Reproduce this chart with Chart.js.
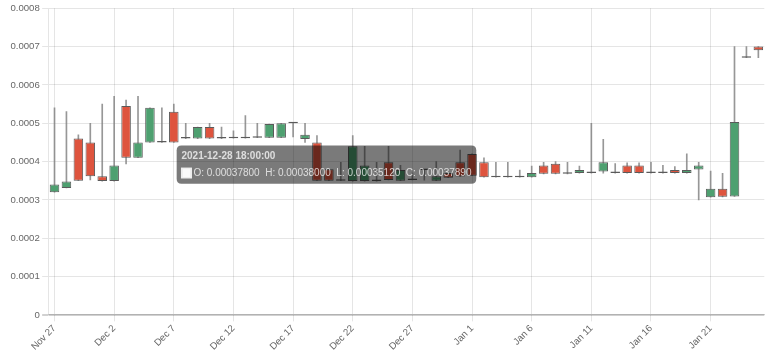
<!DOCTYPE html>
<html>
<head>
<meta charset="utf-8">
<script src="https://cdn.jsdelivr.net/npm/chart.js@4.4.0/dist/chart.umd.min.js"></script>
<style>
html,body{margin:0;padding:0;background:#fff;}
#wrap{width:768px;height:354px;position:relative;}
</style>
</head>
<body>
<div id="wrap"><canvas id="c"></canvas></div>
<script>
// ---- data (daily candles, 2021-11-27 .. 2022-01-25) ----
const startYear = 2021, startMonth = 10, startDay = 27, dayCount = 60;
const categories = [];
for (let i = 0; i < dayCount; i++) {
  categories.push(new Date(Date.UTC(startYear, startMonth, startDay + i)).toISOString().slice(0, 10));
}
const tickLabels = ['Nov 27','Dec 2','Dec 7','Dec 12','Dec 17','Dec 22','Dec 27','Jan 1','Jan 6','Jan 11','Jan 16','Jan 21'];
const tickEvery = 5;

const openVals = [
  0.000320,0.000331,0.000460,0.000450,0.000362,0.000349,0.000545,0.000410,0.000450,0.000450,
  0.000530,0.000460,0.000460,0.000490,0.000460,0.000461,0.000461,0.000462,0.000462,0.000462,
  0.000500,0.000459,0.000450,0.000380,0.000350,0.000349,0.000349,0.000349,0.000398,0.000350,
  0.000352,0.000378,0.000350,0.000370,0.000398,0.000420,0.000398,0.000359,0.000359,0.000359,
  0.000359,0.000390,0.000394,0.000368,0.000370,0.000370,0.000374,0.000370,0.000390,0.000390,
  0.000370,0.000370,0.000378,0.000370,0.000379,0.000307,0.000329,0.000309,0.000671,0.000700
];
const highVals = [
  0.000540,0.000530,0.000470,0.000500,0.000550,0.000570,0.000560,0.000570,0.000540,0.000540,
  0.000550,0.000500,0.000490,0.000500,0.000490,0.000480,0.000520,0.000500,0.000498,0.000500,
  0.000500,0.000500,0.000468,0.000380,0.000398,0.000468,0.000440,0.000398,0.000440,0.000390,
  0.000370,0.000380,0.000400,0.000370,0.000430,0.000420,0.000410,0.000398,0.000398,0.000378,
  0.000388,0.000398,0.000400,0.000398,0.000388,0.000500,0.000458,0.000395,0.000397,0.000397,
  0.000398,0.000390,0.000387,0.000420,0.000398,0.000375,0.000369,0.000700,0.000700,0.000700
];
const lowVals = [
  0.000320,0.000331,0.000350,0.000352,0.000349,0.000349,0.000394,0.000410,0.000450,0.000450,
  0.000450,0.000460,0.000460,0.000460,0.000460,0.000461,0.000461,0.000462,0.000462,0.000462,
  0.000464,0.000450,0.000350,0.000350,0.000350,0.000349,0.000349,0.000349,0.000352,0.000350,
  0.000352,0.0003512,0.000350,0.000358,0.000361,0.000363,0.000359,0.000359,0.000359,0.000359,
  0.000359,0.000368,0.000368,0.000368,0.000370,0.000370,0.000370,0.000370,0.000370,0.000370,
  0.000370,0.000370,0.000370,0.000370,0.000300,0.000307,0.000308,0.000309,0.000671,0.000671
];
const closeVals = [
  0.000340,0.000348,0.000350,0.000362,0.000349,0.000390,0.000410,0.000450,0.000540,0.000450,
  0.000450,0.000460,0.000490,0.000460,0.000460,0.000461,0.000461,0.000462,0.000498,0.000500,
  0.000500,0.000470,0.000350,0.000350,0.000350,0.000440,0.000390,0.000349,0.000352,0.000378,
  0.000352,0.0003789,0.000362,0.000358,0.000361,0.000363,0.000359,0.000359,0.000359,0.000359,
  0.000370,0.000368,0.000368,0.000368,0.000378,0.000370,0.000398,0.000370,0.000370,0.000370,
  0.000370,0.000370,0.000370,0.000378,0.000390,0.000329,0.000308,0.000503,0.000671,0.000690
];
const activeIndex = 31; // candle shown in the tooltip

// ---- styling ----
const UP = 'rgba(78,160,112,1)', DOWN = 'rgba(222,84,62,1)', FLAT = 'rgba(90,90,90,1)';
const bodyColors = openVals.map((o, i) => closeVals[i] > o ? UP : (closeVals[i] < o ? DOWN : FLAT));
const S = 0.8; // scale factor of the reference rendering

Chart.defaults.font.family = "'Liberation Sans', Arial, Helvetica, sans-serif";
Chart.defaults.font.size = 12 * S;
Chart.defaults.color = '#666';

Chart.Tooltip.positioners.pinned = function () {
  const a = this.chart.chartArea;
  return { x: a.left + 0.179 * (a.right - a.left), y: a.top + 0.51 * (a.bottom - a.top) };
};

const fmt = v => v.toFixed(8);

const chart = new Chart(document.getElementById('c'), {
  type: 'bar',
  data: {
    labels: categories,
    datasets: [
      {
        label: 'body',
        data: openVals.map((o, i) => [o, closeVals[i]]),
        backgroundColor: bodyColors,
        borderColor: 'rgba(90,90,90,1)',
        borderWidth: 1,
        borderSkipped: false,
        grouped: false,
        barPercentage: 0.8,
        categoryPercentage: 1,
        minBarLength: 1.5
      },
      {
        label: 'wick',
        data: lowVals.map((l, i) => [l, highVals[i]]),
        backgroundColor: 'rgba(125,125,125,0.8)',
        borderWidth: 0,
        grouped: false,
        barThickness: 1
      }
    ]
  },
  options: {
    responsive: true,
    maintainAspectRatio: false,
    animation: false,
    events: [],
    layout: { padding: { left: 8, top: 2, right: 0, bottom: 0 } },
    plugins: {
      legend: { display: false },
      tooltip: {
        position: 'pinned',
        xAlign: 'left',
        yAlign: 'center',
        caretSize: 0,
        caretPadding: 0,
        backgroundColor: 'rgba(0,0,0,0.52)',
        titleColor: 'rgba(255,255,255,0.74)',
        bodyColor: 'rgba(255,255,255,0.74)',
        titleFont: { size: 10, weight: 'bold' },
        bodyFont: { size: 10 },
        padding: 6 * S,
        cornerRadius: 6 * S,
        titleMarginBottom: 6 * S,
        multiKeyBackground: 'rgba(255,255,255,0.8)',
        callbacks: {
          title: items => categories[items[0].dataIndex] + ' 18:00:00',
          label: item => {
            const i = item.dataIndex;
            return 'O: ' + fmt(openVals[i]) + '  H: ' + fmt(highVals[i]) + '  L: ' + fmt(lowVals[i]) + '  C: ' + fmt(closeVals[i]);
          },
          labelColor: () => ({ borderColor: 'rgba(255,255,255,0.8)', backgroundColor: 'rgba(255,255,255,0.8)' })
        }
      }
    },
    scales: {
      x: {
        offset: true,
        grid: {
          offset: false,
          color: c => (c.index % tickEvery === 0 ? 'rgba(0,0,0,0.1)' : 'rgba(0,0,0,0)'),
          tickLength: 8 * S
        },
        border: { color: 'rgba(0,0,0,0.15)' },
        ticks: {
          autoSkip: false,
          minRotation: 45,
          maxRotation: 45,
          padding: 1.5,
          callback: (v, i) => (i % tickEvery === 0 ? tickLabels[i / tickEvery] : '')
        }
      },
      y: {
        min: 0,
        max: 0.0008,
        grid: {
          color: c => (c.tick && c.tick.value === 0 ? 'rgba(0,0,0,0.18)' : 'rgba(0,0,0,0.1)'),
          lineWidth: c => (c.tick && c.tick.value === 0 ? 2 : 1),
          tickLength: 8 * S
        },
        border: { color: 'rgba(0,0,0,0.1)' },
        ticks: {
          stepSize: 0.0001,
          padding: 3 * S,
          callback: v => (Math.abs(v) < 1e-12 ? '0' : v.toFixed(4))
        }
      }
    }
  }
});

chart.tooltip.setActiveElements([{ datasetIndex: 0, index: activeIndex }], { x: 0, y: 0 });
chart.update();
</script>
</body>
</html>
